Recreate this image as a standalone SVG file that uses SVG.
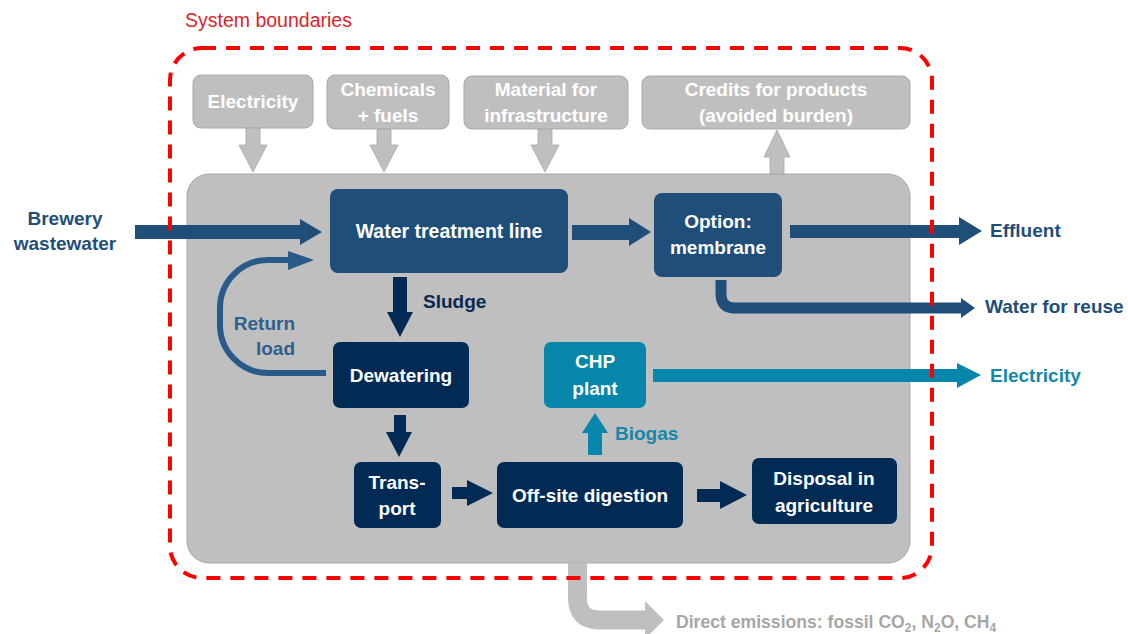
<svg xmlns="http://www.w3.org/2000/svg" width="1128" height="634" viewBox="0 0 1128 634">
<style>
text{font-family:"Liberation Sans",Arial,sans-serif;font-weight:bold;font-size:19px}
.w{fill:#fff}
.c{text-anchor:middle}
.gbox{fill:#BFBFBF;stroke:#A8A8A8;stroke-width:1}
.garr{fill:#BFBFBF;stroke:#A8A8A8;stroke-width:0.8}
.blue{fill:#1F4E79}
.navy{fill:#012A55}
.teal{fill:#0586AA}
.tblue{fill:#1F4E79}
.tnavy{fill:#0B2A52}
.tteal{fill:#1587A8}
.tgray{fill:#A6A6A6}
</style>
<rect width="1128" height="634" fill="#fff"/>
<text x="185" y="27" style="font-weight:normal;fill:#D9262B;font-size:19.5px">System boundaries</text>

<g id="process-area"><rect x="187" y="174" width="723" height="389" rx="22" class="gbox"/></g>

<g id="electricity-in"><rect x="193" y="75" width="120" height="53" rx="8" class="gbox"/><text x="253" y="108" class="w c">Electricity</text></g>
<g id="chemicals"><rect x="327" y="75" width="122" height="54" rx="8" class="gbox"/><text x="388" y="96" class="w c">Chemicals</text><text x="388" y="122" class="w c">+ fuels</text></g>
<g id="material"><rect x="464" y="76" width="164" height="53" rx="8" class="gbox"/><text x="546" y="96" class="w c">Material for</text><text x="546" y="122" class="w c">infrastructure</text></g>
<g id="credits"><rect x="642" y="76" width="268" height="53" rx="8" class="gbox"/><text x="776" y="96" class="w c">Credits for products</text><text x="776" y="122" class="w c">(avoided burden)</text></g>

<g id="brewery-label"><text x="65" y="225" class="tblue c">Brewery</text><text x="65" y="250" class="tblue c">wastewater</text></g>

<g id="water-treatment"><rect x="330" y="189" width="238" height="84" rx="8" class="blue"/><text x="449" y="238" class="w c" style="font-size:19.5px">Water treatment line</text></g>
<g id="membrane"><rect x="654" y="193" width="128" height="84" rx="8" class="blue"/><text x="718" y="228" class="w c">Option:</text><text x="718" y="254" class="w c">membrane</text></g>
<g id="dewatering"><rect x="333" y="342" width="136" height="66" rx="7" class="navy"/><text x="401" y="382" class="w c">Dewatering</text></g>
<g id="chp"><rect x="544" y="342" width="102" height="66" rx="7" class="teal"/><text x="595" y="368" class="w c">CHP</text><text x="595" y="395" class="w c">plant</text></g>
<g id="transport"><rect x="354" y="462" width="87" height="66" rx="7" class="navy"/><text x="397" y="489" class="w c">Trans-</text><text x="397" y="515" class="w c">port</text></g>
<g id="digestion"><rect x="497" y="462" width="186" height="66" rx="7" class="navy"/><text x="590" y="502" class="w c">Off-site digestion</text></g>
<g id="disposal"><rect x="752" y="458" width="145" height="66" rx="7" class="navy"/><text x="824" y="485" class="w c">Disposal in</text><text x="824" y="512" class="w c">agriculture</text></g>

<g id="outputs">
<text x="990" y="237" class="tblue">Effluent</text>
<text x="985" y="313" class="tblue">Water for reuse</text>
<text x="990" y="382" class="tteal">Electricity</text>
<text x="676" y="628" class="tgray" style="font-size:17.6px">Direct emissions: fossil CO<tspan font-size="12" dy="4">2</tspan><tspan dy="-4">, N</tspan><tspan font-size="12" dy="4">2</tspan><tspan dy="-4">O, CH</tspan><tspan font-size="12" dy="4">4</tspan></text>
</g>

<g id="connectors">
<polygon class="garr" points="246,128 260,128 260,145 267,145 253,172 239,145 246,145"/>
<polygon class="garr" points="377,129 391,129 391,145 398,145 384,172 370,145 377,145"/>
<polygon class="garr" points="538,129 552,129 552,145 559,145 545,172 531,145 538,145"/>
<polygon class="garr" points="770,174 784,174 784,157 790,157 777,130 764,157 770,157"/>
<path d="M577.5 563 V598 Q577.5 620 599.5 620 H646" fill="none" stroke="#BFBFBF" stroke-width="19"/>
<polygon points="645,601 664,620 645,639" fill="#BFBFBF"/>

<polygon class="blue" points="135,225 300,225 300,219 322,232 300,245 300,239 135,239"/>
<polygon class="blue" points="572,225 629,225 629,218 651,232 629,246 629,240 572,240"/>
<polygon class="blue" points="790,225 959,225 959,217 982,231 959,245 959,238 790,238"/>
<path d="M721 280 V294 Q721 308 735 308 H963" fill="none" stroke="#1F4E79" stroke-width="11"/>
<polygon class="blue" points="961,298 975,308 961,318"/>
<path d="M326 373 H268 A48 48 0 0 1 220 325 V308 A48 48 0 0 1 268 260 H290" fill="none" stroke="#2A5A8A" stroke-width="6"/>
<polygon fill="#2A5A8A" points="288,251 314,260 288,270"/>
<text x="295" y="330" fill="#2E5F8E" style="text-anchor:end">Return</text>
<text x="295" y="355" fill="#2E5F8E" style="text-anchor:end">load</text>

<polygon class="navy" points="393,277 407,277 407,312 413,312 400,337 387,312 393,312"/>
<text x="423" y="308" class="tnavy">Sludge</text>
<polygon class="navy" points="394,415 406,415 406,432 412,432 399,457 386,432 394,432"/>
<polygon class="navy" points="452,487 467,487 467,480 493,493 467,506 467,499 452,499"/>
<polygon class="navy" points="697,489 720,489 720,481 747,495 720,509 720,502 697,502"/>

<polygon class="teal" points="588,455 602,455 602,433 608,433 595,413 582,433 588,433"/>
<text x="615" y="440" class="tteal">Biogas</text>
<polygon class="teal" points="653,369 957,369 957,363 981,375 957,388 957,382 653,382"/>
</g>

<g id="system-boundary"><rect x="170" y="48" width="762" height="530" rx="32" fill="none" stroke="#FF0000" stroke-width="4" stroke-dasharray="14 10"/></g>
</svg>
